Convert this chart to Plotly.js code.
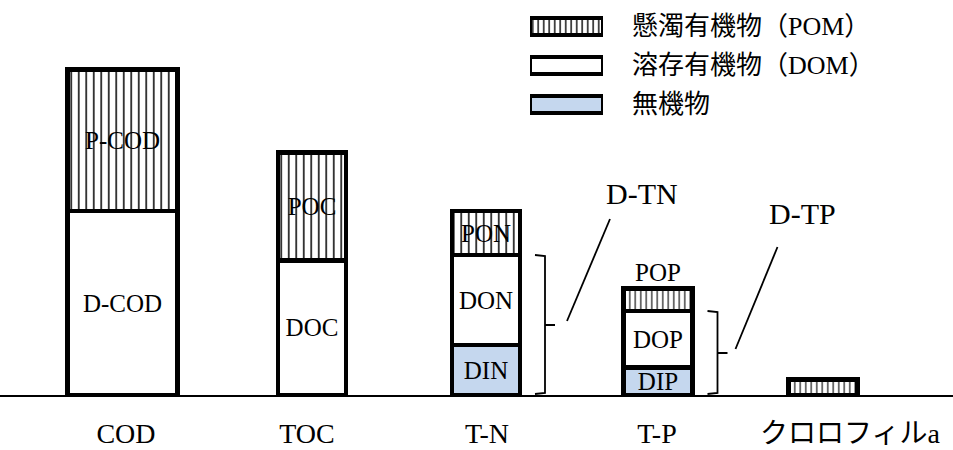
<!DOCTYPE html>
<html>
<head>
<meta charset="utf-8">
<script src="https://cdn.plot.ly/plotly-3.0.1.min.js"></script>
<style>
  body { margin: 0; background: white; }
  #chart { width: 953px; height: 450px; }
</style>
</head>
<body>
<div id="chart"></div>
<script>
// Chart data (relative heights)
const categories = ['COD', 'TOC', 'T-N', 'T-P', 'クロロフィルa'];
const inorganicValues = [null, null, 5.0, 2.75, null];
const dissolvedValues = [18.4, 13.45, 9.0, 5.65, null];
const particulateValues = [14.15, 10.8, 4.4, 2.25, 1.55];
const inorganicLabels = ['', '', 'DIN', 'DIP', ''];
const dissolvedLabels = ['D-COD', 'DOC', 'DON', 'DOP', ''];
const particulateLabels = ['P-COD', 'POC', 'PON', 'POP', ''];
const legendNames = ['懸濁有機物（POM）', '溶存有機物（DOM）', '無機物'];
const bracketNames = ['D-TN', 'D-TP'];
const bracketBars = [2, 3];

// Layout of the drawing (x axis runs in page pixels)
const barCenters = [122.5, 312, 486, 658, 823];
const barWidths = [110, 68, 68, 69, 69];
const labelCenters = [126, 307, 487, 657, 850];
const hatchSizes = [7.5, 7.5, 7.5, 5.5, 5.5];
const leaderOffsets = [[47, 90], [43, 85]];
const nameOffsets = [[122, 13.2], [109.5, 14.0]];

const serif = 'Liberation Serif, Noto Sans CJK JP, serif';
const outline = {color: 'black', width: 4.5};
const blueFill = '#c5d7ee';

function layerTrace(values, labels, fill, pattern, positions) {
    return {
        type: 'bar',
        x: barCenters,
        y: values,
        width: barWidths,
        text: labels,
        textposition: positions || 'inside',
        insidetextanchor: 'middle',
        constraintext: 'none',
        insidetextfont: {family: serif, size: 25, color: 'black'},
        outsidetextfont: {family: serif, size: 25, color: 'black'},
        textangle: 0,
        cliponaxis: false,
        marker: {color: fill, line: outline, pattern: pattern},
        hoverinfo: 'skip'
    };
}

const hatch = {shape: '|', size: hatchSizes, solidity: 0.2, fgcolor: 'black', bgcolor: 'white'};

let data = [
    layerTrace(inorganicValues, inorganicLabels, blueFill),
    layerTrace(dissolvedValues, dissolvedLabels, 'white'),
    layerTrace(particulateValues, particulateLabels, 'white', hatch,
        ['inside', 'inside', 'inside', 'outside', 'none'])
];

// Legend swatches drawn as small horizontal bars on an inset axis
const swatchStyles = [
    {color: 'white', pattern: {shape: '|', size: 5.5, solidity: 0.25, fgcolor: 'black', bgcolor: 'white'}},
    {color: 'white'},
    {color: blueFill}
];
swatchStyles.forEach((s, i) => {
    data.push({
        type: 'bar',
        orientation: 'h',
        x: [1],
        y: [i],
        base: 0,
        width: 0.44,
        xaxis: 'x2',
        yaxis: 'y2',
        cliponaxis: false,
        marker: Object.assign({line: outline}, s),
        hoverinfo: 'skip'
    });
});

let shapes = [];
let annotations = [];

// Braces and leader lines for the dissolved parts
bracketBars.forEach((b, k) => {
    let xr = barCenters[b] + barWidths[b] / 2;
    let yTop = inorganicValues[b] + dissolvedValues[b];
    let yMid = yTop / 2;
    let yBot = 0.1;
    let hook = xr + 15, vert = xr + 25, tip = xr + 35;
    shapes.push({
        type: 'path', xref: 'x', yref: 'y',
        path: 'M' + hook + ',' + yTop + ' L' + vert + ',' + (yTop - 0.1) +
              ' L' + vert + ',' + yMid + ' L' + tip + ',' + yMid +
              ' M' + vert + ',' + yMid + ' L' + vert + ',' + (yBot + 0.1) +
              ' L' + hook + ',' + yBot,
        line: {color: 'black', width: 1.8}
    });
    shapes.push({
        type: 'line', xref: 'x', yref: 'y',
        x0: xr + leaderOffsets[k][0], y0: yMid + 0.4,
        x1: xr + leaderOffsets[k][1], y1: yMid + 10.6,
        line: {color: 'black', width: 1.8}
    });
    annotations.push({
        xref: 'x', yref: 'y',
        x: xr + nameOffsets[k][0], y: yMid + nameOffsets[k][1],
        text: bracketNames[k], showarrow: false,
        font: {family: serif, size: 30, color: 'black'}
    });
});

// Legend texts
legendNames.forEach((name, i) => {
    annotations.push({
        xref: 'x', yref: 'y2',
        x: 630, y: i, xanchor: 'left', yanchor: 'middle',
        text: name, showarrow: false,
        font: {family: serif, size: 26, color: 'black'}
    });
});

const layout = {
    width: 953,
    height: 450,
    margin: {l: 0, r: 0, t: 0, b: 55},
    paper_bgcolor: 'white',
    plot_bgcolor: 'white',
    barmode: 'stack',
    showlegend: false,
    xaxis: {
        range: [0, 953],
        showgrid: false,
        zeroline: false,
        showline: true,
        linecolor: 'black',
        linewidth: 1.5,
        ticks: '',
        tickvals: labelCenters,
        ticktext: categories,
        ticklabelstandoff: 13,
        tickfont: {family: serif, size: 28, color: 'black'}
    },
    yaxis: {
        range: [0, 39.5],
        visible: false,
        showgrid: false,
        zeroline: false
    },
    xaxis2: {
        domain: [0.5561, 0.6327],
        anchor: 'y2',
        range: [0, 1],
        visible: false
    },
    yaxis2: {
        domain: [0.686, 0.982],
        anchor: 'x2',
        range: [2.5, -0.5],
        visible: false
    },
    shapes: shapes,
    annotations: annotations
};

Plotly.newPlot('chart', data, layout, {staticPlot: true});
</script>
</body>
</html>
